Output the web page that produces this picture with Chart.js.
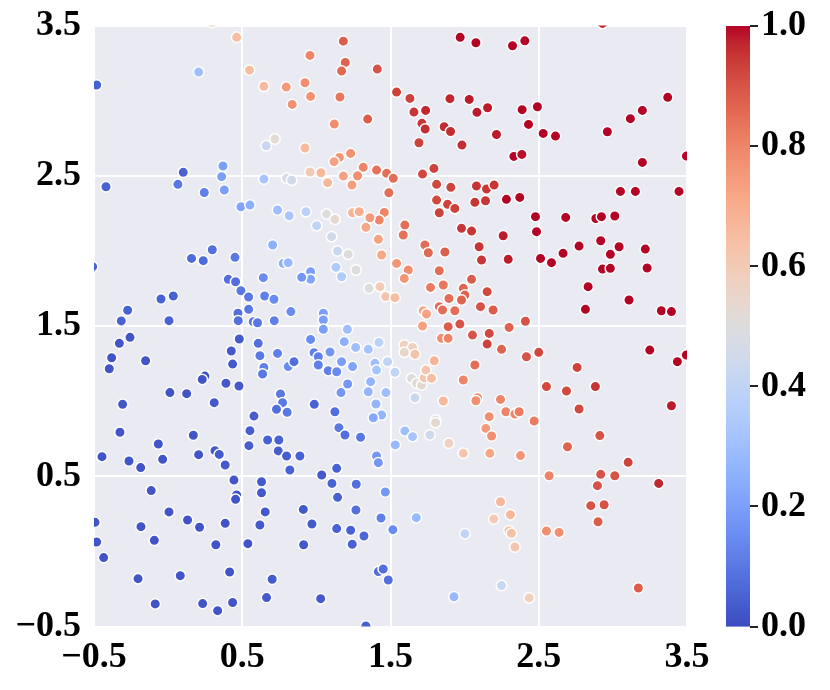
<!DOCTYPE html>
<html>
<head>
<meta charset="utf-8">
<script src="https://cdn.jsdelivr.net/npm/chart.js@4.4.1/dist/chart.umd.min.js"></script>
<style>
  html, body { margin: 0; padding: 0; background: #ffffff; }
  #wrap { position: relative; width: 830px; height: 690px; }
  #main { position: absolute; left: 0; top: 0; }
  #cbar { position: absolute; left: 700px; top: 0; }
</style>
</head>
<body>
<div id="wrap">
  <canvas id="main" width="830" height="690"></canvas>
  <canvas id="cbar" width="130" height="690"></canvas>
</div>
<script>
// ---------------- data ----------------
const xValues = [
  0.298,0.462,0.206,-0.482,0.549,0.646,0.797,0.837,0.720,0.662,0.370,0.102,
  1.182,0.957,1.195,1.170,1.411,0.923,0.961,1.159,1.121,1.346,0.923,1.231,1.155,1.119,0.957,1.031,1.316,1.406,
  1.541,1.631,1.658,1.737,1.712,1.734,1.692,1.901,2.031,2.083,2.155,1.862,1.905,1.982,1.970,2.076,1.793,
  2.930,2.323,2.406,2.388,2.491,2.431,2.215,2.530,2.613,2.332,2.386,2.963,3.118,3.199,3.370,3.199,3.496,
  0.361,-0.419,0.066,0.244,0.379,0.646,0.799,0.833,0.491,0.552,0.738,0.817,0.705,0.298,0.158,0.237,0.451,-0.509,
  0.776,0.810,0.642,0.406,0.455,0.491,0.543,0.651,0.714,-0.048,0.035,-0.273,-0.316,0.006,0.543,0.471,0.473,0.574,0.603,0.716,0.828,
  1.076,1.182,1.278,1.240,1.474,1.519,1.489,1.716,1.811,1.907,2.080,2.148,1.811,1.885,1.934,1.829,2.069,2.141,1.979,2.047,
  1.597,1.586,1.732,1.755,1.867,2.098,2.114,1.458,1.424,1.361,1.334,1.244,1.289,1.418,1.440,1.541,1.620,1.593,
  0.930,1.002,1.069,1.125,1.103,1.143,1.215,1.132,1.170,1.267,0.961,0.961,0.901,1.355,1.429,1.467,1.530,1.721,1.743,
  1.047,1.047,1.829,1.851,1.934,1.894,1.991,2.002,1.979,2.047,1.829,1.856,1.770,2.152,2.107,
  2.199,2.282,2.372,2.478,2.485,2.682,2.260,2.294,2.512,2.586,2.664,2.772,2.885,2.923,3.013,2.918,3.042,2.983,2.930,2.983,
  3.219,3.231,3.051,3.152,3.446,2.833,3.109,2.815,3.327,3.395,2.192,
  -0.257,-0.329,-0.381,-0.397,-0.152,0.480,0.426,0.435,0.248,0.230,0.390,0.478,0.012,0.125,0.311,-0.307,
  0.608,0.619,0.738,0.646,0.637,0.810,0.758,0.772,0.731,0.803,0.579,0.552,0.545,0.671,0.747,0.743,0.799,0.821,
  -0.325,0.170,-0.066,-0.446,-0.264,-0.185,-0.037,0.206,0.316,0.345,0.385,
  1.047,1.209,0.961,1.188,1.265,1.350,1.422,0.984,1.013,1.013,1.092,1.080,1.137,1.170,1.244,0.849,1.395,1.406,1.480,1.530,
  1.211,1.166,1.366,1.350,1.469,1.402,1.440,1.384,0.986,1.125,1.152,1.193,1.298,1.406,1.418,0.889,1.137,1.532,1.597,1.649,
  1.593,1.649,1.593,1.665,1.716,1.889,1.968,1.844,1.889,2.053,2.166,2.152,1.795,2.069,1.991,1.642,1.676,1.710,1.728,1.739,1.777,
  1.665,1.856,2.087,2.076,1.804,1.804,1.766,1.894,1.991,2.166,2.143,2.182,2.170,
  2.410,2.300,2.249,2.417,2.500,2.759,2.552,2.687,2.882,2.772,3.249,3.435,3.496,3.395,2.242,2.278,2.339,2.368,2.469,2.377,2.912,2.694,3.103,
  0.444,0.630,0.630,0.462,0.455,-0.114,0.006,0.131,0.212,0.385,0.655,0.619,-0.493,-0.482,-0.435,-0.183,-0.093,0.322,0.538,
  -0.203,0.082,0.415,0.702,0.664,-0.087,0.233,0.334,0.435,
  1.036,1.105,1.269,1.143,1.465,0.912,1.267,0.970,1.137,1.231,1.321,1.242,0.914,1.436,1.516,1.674,2.002,1.418,1.451,1.485,1.029,1.334,1.928,
  2.570,2.918,3.013,2.896,3.309,2.851,2.941,2.900,2.242,2.309,2.197,2.300,2.316,2.339,2.552,2.637,2.249,2.435,3.172
];
const yValues = [
  3.52,3.421,3.190,3.104,3.203,3.095,3.090,2.975,2.744,2.700,2.565,2.523,
  3.396,3.301,3.254,3.197,3.210,3.119,3.028,3.024,2.844,2.877,2.685,2.649,2.622,2.594,2.525,2.520,2.556,2.538,
  3.057,3.015,2.924,2.935,2.849,2.811,2.720,3.013,3.008,2.922,2.953,2.826,2.795,2.704,3.421,3.385,2.549,
  3.514,3.365,3.398,2.940,2.959,2.842,2.775,2.782,2.764,2.629,2.642,2.793,2.880,2.935,3.022,2.589,2.631,
  2.494,2.427,2.443,2.389,2.405,2.478,2.483,2.471,2.294,2.305,2.272,2.234,2.039,2.008,1.950,1.935,1.957,1.895,
  1.917,1.922,1.822,1.811,1.795,1.735,1.693,1.700,1.678,1.680,1.700,1.605,1.534,1.536,1.611,1.585,1.536,1.529,1.522,1.536,1.596,
  2.454,2.498,2.500,2.438,2.516,2.483,2.387,2.511,2.443,2.423,2.432,2.412,2.338,2.310,2.283,2.254,2.323,2.334,2.150,2.132,
  2.172,2.106,2.039,1.988,1.993,2.028,1.939,2.256,2.205,2.221,2.157,2.254,2.261,2.077,1.973,1.917,1.873,1.817,
  2.261,2.168,2.245,2.210,2.095,1.999,1.977,1.891,1.828,1.873,1.862,1.811,1.824,1.751,1.762,1.696,1.689,1.602,1.580,
  1.585,1.540,1.629,1.607,1.602,1.684,1.751,1.706,1.673,1.811,1.868,1.773,1.757,1.729,1.629,
  2.438,2.343,2.356,2.228,2.128,2.223,2.101,1.944,1.950,1.922,1.984,2.032,2.216,2.228,2.232,2.068,2.028,1.977,1.879,1.884,
  2.012,1.886,2.396,2.396,2.396,1.762,1.673,1.611,1.602,1.596,1.607,
  1.425,1.385,1.289,1.216,1.269,1.414,1.334,1.247,1.167,1.145,1.119,1.101,1.057,1.050,0.990,0.979,
  1.385,1.303,1.318,1.225,1.181,1.230,1.048,0.990,0.946,0.926,0.901,0.804,0.704,0.742,0.742,0.669,0.635,0.542,
  0.793,0.773,0.715,0.631,0.602,0.558,0.613,0.644,0.671,0.646,0.575,
  1.478,1.478,1.411,1.396,1.358,1.345,1.391,1.323,1.296,1.241,1.327,1.203,1.196,1.263,1.230,1.263,1.252,1.207,1.263,1.192,
  1.114,1.057,1.130,1.063,1.057,0.981,0.908,0.890,0.979,0.930,0.824,0.775,0.760,0.635,0.591,0.635,0.553,0.709,0.802,0.764,
  1.374,1.358,1.325,1.312,1.500,1.496,1.513,1.418,1.418,1.440,1.451,1.380,1.269,1.241,1.141,1.152,1.119,1.108,1.156,1.207,1.152,
  1.023,1.001,1.023,1.003,0.875,0.857,0.775,0.720,0.653,0.897,0.819,0.768,0.653,
  1.532,1.491,1.345,1.296,1.325,1.225,1.097,1.068,1.097,0.948,1.340,1.263,1.307,0.970,1.012,0.930,0.915,0.930,0.868,0.638,0.771,0.697,0.593,
  0.475,0.464,0.391,0.376,0.347,0.405,0.263,0.209,0.161,0.187,0.263,0.176,0.194,0.063,-0.041,0.165,0.074,0.045,0.052,
  -0.181,-0.161,-0.137,-0.185,-0.307,-0.349,-0.347,-0.394,-0.340,
  0.509,0.453,0.447,0.360,0.396,0.280,0.276,0.183,0.152,0.141,0.103,0.048,0.045,0.223,0.145,0.225,0.118,-0.134,-0.117,-0.190,-0.314,-0.496,-0.301,
  0.504,0.513,0.504,0.438,0.453,0.305,0.311,0.198,0.331,0.245,0.216,0.138,0.121,0.030,0.136,0.127,-0.227,-0.309,-0.243
];
const colorValues = [
  0.55,0.65,0.30,0.05,0.65,0.66,0.75,0.77,0.52,0.43,0.20,0.05,
  0.88,0.80,0.87,0.86,0.90,0.78,0.77,0.83,0.78,0.88,0.66,0.77,0.76,0.73,0.60,0.67,0.80,0.84,
  0.93,0.93,0.95,0.97,0.95,0.96,0.93,0.97,0.98,0.98,0.98,0.96,0.96,0.96,1.00,1.00,0.93,
  0.97,1.00,1.00,1.00,1.00,1.00,0.98,1.00,1.00,1.00,0.99,1.00,1.00,1.00,1.00,1.00,1.00,
  0.20,0.05,0.10,0.12,0.20,0.32,0.47,0.45,0.22,0.25,0.30,0.33,0.25,0.08,0.07,0.07,0.10,0.05,
  0.25,0.28,0.15,0.08,0.08,0.10,0.10,0.12,0.15,0.05,0.05,0.05,0.05,0.05,0.10,0.08,0.08,0.10,0.10,0.12,0.15,
  0.67,0.73,0.78,0.74,0.85,0.85,0.85,0.92,0.92,0.93,0.95,0.95,0.92,0.93,0.93,0.93,0.95,0.95,0.95,0.95,
  0.85,0.84,0.85,0.86,0.88,0.95,0.95,0.80,0.80,0.75,0.72,0.68,0.70,0.73,0.72,0.76,0.78,0.76,
  0.38,0.40,0.50,0.53,0.45,0.42,0.50,0.35,0.35,0.50,0.20,0.22,0.18,0.50,0.60,0.62,0.65,0.72,0.73,
  0.20,0.20,0.85,0.85,0.85,0.85,0.87,0.87,0.87,0.88,0.85,0.83,0.82,0.92,0.90,
  0.95,1.00,1.00,1.00,1.00,1.00,0.98,0.98,1.00,1.00,1.00,1.00,1.00,1.00,1.00,1.00,1.00,1.00,1.00,1.00,
  1.00,1.00,1.00,1.00,1.00,1.00,1.00,1.00,1.00,1.00,0.88,
  0.02,0.02,0.02,0.02,0.02,0.03,0.03,0.03,0.02,0.02,0.03,0.03,0.02,0.02,0.03,0.02,
  0.08,0.10,0.12,0.12,0.10,0.15,0.10,0.10,0.08,0.10,0.04,0.04,0.04,0.05,0.05,0.04,0.04,0.05,
  0.02,0.02,0.02,0.02,0.02,0.02,0.02,0.02,0.03,0.03,0.03,
  0.20,0.30,0.15,0.25,0.30,0.32,0.38,0.12,0.12,0.12,0.18,0.12,0.15,0.20,0.22,0.08,0.30,0.32,0.40,0.40,
  0.18,0.18,0.27,0.27,0.30,0.27,0.27,0.23,0.05,0.08,0.10,0.08,0.10,0.18,0.18,0.05,0.05,0.28,0.30,0.32,
  0.58,0.58,0.55,0.63,0.73,0.88,0.90,0.78,0.80,0.90,0.92,0.93,0.68,0.85,0.80,0.50,0.52,0.53,0.62,0.62,0.65,
  0.43,0.67,0.78,0.78,0.50,0.53,0.44,0.57,0.62,0.78,0.75,0.78,0.72,
  0.90,0.87,0.87,0.90,0.92,0.93,0.92,0.92,0.95,0.92,1.00,1.00,1.00,0.98,0.80,0.80,0.80,0.82,0.82,0.76,0.90,0.87,0.93,
  0.02,0.03,0.03,0.02,0.02,0.02,0.02,0.02,0.02,0.02,0.03,0.03,0.02,0.02,0.02,0.02,0.02,0.02,0.02,
  0.02,0.02,0.02,0.03,0.03,0.02,0.02,0.02,0.02,
  0.03,0.05,0.08,0.05,0.18,0.03,0.08,0.03,0.05,0.05,0.06,0.05,0.03,0.12,0.15,0.28,0.40,0.08,0.08,0.08,0.03,0.05,0.28,
  0.80,0.90,0.90,0.90,0.97,0.90,0.90,0.88,0.67,0.67,0.60,0.64,0.64,0.62,0.78,0.78,0.42,0.58,0.88
];
const xTicks = [-0.5, 0.5, 1.5, 2.5, 3.5];
const yTicks = [-0.5, 0.5, 1.5, 2.5, 3.5];
const cbTicks = [0.0, 0.2, 0.4, 0.6, 0.8, 1.0];

// ---------------- colormap (coolwarm) ----------------
const COOLWARM = [
  [59,76,192],[68,90,204],[77,104,215],[87,117,225],[98,130,234],[108,142,241],[119,154,247],[130,165,251],
  [141,176,254],[152,185,255],[163,194,255],[174,201,253],[184,208,249],[194,213,244],[204,217,238],[213,219,230],
  [221,221,221],[229,216,209],[236,211,197],[241,204,184],[245,196,172],[247,187,159],[247,177,147],[247,166,134],
  [244,154,123],[241,141,111],[236,127,99],[229,112,89],[222,96,77],[213,80,69],[203,62,56],[192,40,47],[180,4,38]
];
function coolwarm(t) {
  t = Math.max(0, Math.min(1, t));
  const p = t * (COOLWARM.length - 1);
  const i = Math.min(Math.floor(p), COOLWARM.length - 2);
  const f = p - i;
  const a = COOLWARM[i], b = COOLWARM[i + 1];
  const c = a.map((v, k) => Math.round(v + (b[k] - v) * f));
  return 'rgb(' + c[0] + ',' + c[1] + ',' + c[2] + ')';
}

const FONT = { family: "'Liberation Serif', 'Times New Roman', serif", size: 36, weight: 'bold' };
function fmt(v) {
  const s = Math.abs(v).toFixed(1);
  return v < 0 ? '\u2212' + s : s;
}

// ---------------- main scatter ----------------
const points = xValues.map((x, i) => ({ x: x, y: yValues[i] }));
const pointColors = colorValues.map(coolwarm);

const bgPlugin = {
  id: 'plotBg',
  beforeDraw(chart) {
    const a = chart.chartArea, ctx = chart.ctx;
    ctx.save();
    ctx.fillStyle = '#eaeaf2';
    ctx.fillRect(a.left, a.top, a.right - a.left, a.bottom - a.top);
    ctx.restore();
  }
};

new Chart(document.getElementById('main'), {
  type: 'scatter',
  data: {
    datasets: [{
      data: points,
      pointRadius: 5.25,
      pointHoverRadius: 5.25,
      pointBackgroundColor: pointColors,
      pointBorderColor: '#ffffff',
      pointBorderWidth: 1.5,
      clip: 0
    }]
  },
  options: {
    responsive: false,
    animation: false,
    devicePixelRatio: 1,
    layout: { padding: { left: 0, right: 143, top: 25.5, bottom: 0 } },
    plugins: { legend: { display: false }, tooltip: { enabled: false } },
    scales: {
      x: {
        type: 'linear', min: -0.5, max: 3.5,
        afterBuildTicks: s => { s.ticks = xTicks.map(v => ({ value: v })); },
        afterFit: s => { s.height = 63.4; },
        ticks: { callback: v => fmt(v), font: FONT, color: '#000', padding: 10, maxRotation: 0 },
        grid: { color: '#ffffff', lineWidth: 2, drawTicks: false },
        border: { display: false }
      },
      y: {
        type: 'linear', min: -0.5, max: 3.5,
        afterBuildTicks: s => { s.ticks = yTicks.map(v => ({ value: v })); },
        afterFit: s => { s.width = 94; },
        ticks: { callback: v => fmt(v), font: FONT, color: '#000', padding: 0 },
        grid: { color: '#ffffff', lineWidth: 2, drawTicks: true, tickLength: 13 },
        border: { display: false }
      }
    }
  },
  plugins: [bgPlugin]
});

// ---------------- colorbar ----------------
const gradPlugin = {
  id: 'cbGradient',
  beforeDraw(chart) {
    const a = chart.chartArea, ctx = chart.ctx;
    const g = ctx.createLinearGradient(0, a.bottom, 0, a.top);
    const n = 64;
    for (let i = 0; i <= n; i++) g.addColorStop(i / n, coolwarm(i / n));
    ctx.save();
    ctx.fillStyle = g;
    ctx.fillRect(a.left, a.top, a.right - a.left, a.bottom - a.top);
    ctx.restore();
  }
};

new Chart(document.getElementById('cbar'), {
  type: 'scatter',
  data: { datasets: [{ data: [] }] },
  options: {
    responsive: false,
    animation: false,
    devicePixelRatio: 1,
    layout: { padding: { left: 26, right: 0, top: 26, bottom: 63.4 } },
    plugins: { legend: { display: false }, tooltip: { enabled: false } },
    scales: {
      x: { display: false, min: 0, max: 1 },
      y: {
        position: 'right', min: 0, max: 1,
        afterBuildTicks: s => { s.ticks = cbTicks.map(v => ({ value: v })); },
        afterFit: s => { s.width = 80; },
        ticks: { callback: v => v.toFixed(1), font: FONT, color: '#000', padding: 3 },
        grid: { drawOnChartArea: false, drawTicks: true, tickLength: 8, color: '#222', lineWidth: 2 },
        border: { display: false }
      }
    }
  },
  plugins: [gradPlugin]
});
</script>
</body>
</html>
